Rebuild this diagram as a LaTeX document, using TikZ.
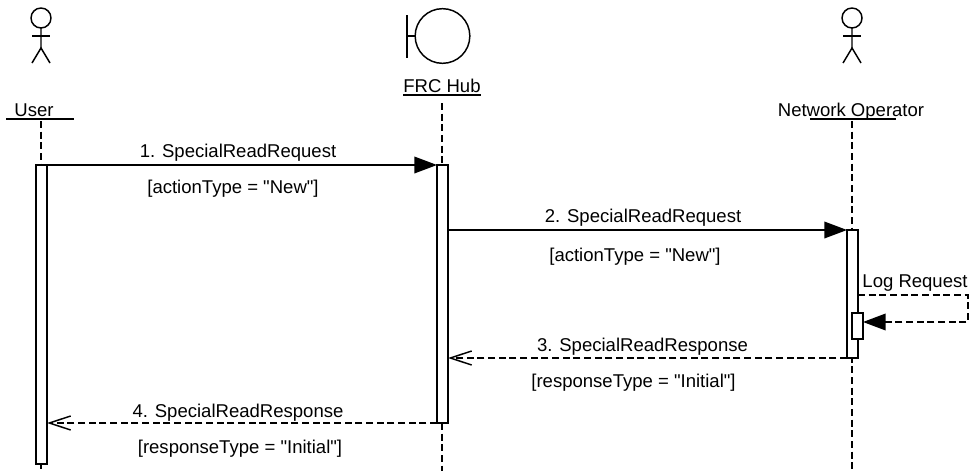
\documentclass[tikz,border=0pt]{standalone}
\usepackage{fontspec}
\newfontfamily\labelfont{Liberation Sans}
\usepackage{tikz}
\usetikzlibrary{arrows.meta,positioning,calc}

\tikzset{
  actor/.pic={
    \draw[figure] (0,0) circle[radius=10] (0,10) -- (0,30);
    \draw[figure] (-9,18) -- (9,18);
    \draw[figure] (-9,45) -- (0,30) -- (9,45);
  },
  figure/.style={line width=1.1pt},
  label/.style={inner sep=0pt,anchor=base,font=\labelfont\fontsize{13.9pt}{16pt}\selectfont},
  rule/.style={line width=1.1pt},
  lifeline/.style={line width=1.1pt,dash pattern=on 5.2pt off 2.8pt},
  bar/.style={draw,fill=white,line width=1.1pt,minimum width=8.25pt,inner sep=0pt,outer sep=0pt},
  call/.style={line width=1.1pt,-{Triangle[length=17pt,width=12.5pt]}},
  reply/.style={line width=1.1pt,dash pattern=on 5.2pt off 2.8pt,-{Straight Barb[length=16pt,width=10.5pt,line width=1.1pt]}},
  selfcall/.style={line width=1.1pt,dash pattern=on 5.2pt off 2.8pt,-{Triangle[length=17pt,width=12.5pt]}},
}

\begin{document}
\begin{tikzpicture}[x=0.75pt,y=-0.75pt]
  \useasboundingbox (0,0) rectangle (971,471);

  % actors
  \pic at (41,18) {actor};
  \pic at (852,18) {actor};

  % hub symbol
  \node[draw,circle,line width=1.1pt,minimum size=41pt,inner sep=0pt,outer sep=0pt] (hubcircle) at (442.5,36) {};
  \coordinate (hubstem) at (407,36);
  \draw[figure] (407,15) -- (407,58);
  \draw[figure] (hubstem) -- (hubcircle.west);

  % names
  \node[label] (user) at (34,116) {User};
  \node[label] (hub) at (442,92) {FRC Hub};
  \node[label] (operator) at (851,116) {Network Operator};
  \draw[rule] (6,119) -- (74,119);
  \draw[rule] (403,95) -- (481,95);
  \draw[rule] (810,119) -- (896,119);

  % lifelines
  \coordinate (usertop) at (41,121);
  \coordinate (hubtop) at (442,103);
  \coordinate (operatortop) at (852,121);
  \coordinate (userend) at (41,471);
  \coordinate (hubend) at (442,471);
  \coordinate (operatorend) at (852,471);
  \draw[lifeline] (usertop) -- (userend);
  \draw[lifeline] (hubtop) -- (hubend);
  \draw[lifeline] (operatortop) -- (operatorend);

  % activations
  \node[bar,minimum height=224.25pt] (userbar) at (41.5,314.5) {};
  \node[bar,minimum height=193.5pt] (hubbar) at (442.5,294) {};
  \node[bar,minimum height=96pt] (operatorbar) at (852.5,294) {};
  \node[bar,minimum height=19.5pt] (logbar) at (857.5,326) {};

  % messages
  \draw[call] (userbar.north east) -- (hubbar.north west);
  \draw[call] (hubbar.east |- operatorbar.north) -- (operatorbar.north west);
  \draw[reply] (operatorbar.south west) -- (hubbar.east |- operatorbar.south);
  \draw[reply] (hubbar.south west) -- (userbar.east |- hubbar.south);

  % self call
  \coordinate (logout) at (858,295);
  \coordinate (logback) at (968,322);
  \draw[selfcall] (logout) -| (logback) -- (logbar.east |- logback);

  % message labels
  \node[label] (firstcall) at (238,157) {1. SpecialReadRequest};
  \node[label] (firstguard) at (233,193) {[actionType = "New"]};
  \node[label] (secondcall) at (643,222) {2. SpecialReadRequest};
  \node[label] (secondguard) at (635,261) {[actionType = "New"]};
  \node[label] (logcall) at (915,287) {Log Request};
  \node[label] (firstreply) at (642.5,351) {3. SpecialReadResponse};
  \node[label] (firstresult) at (633.5,387) {[responseType = "Initial"]};
  \node[label] (secondreply) at (238,417) {4. SpecialReadResponse};
  \node[label] (secondresult) at (240,453) {[responseType = "Initial"]};
\end{tikzpicture}
\end{document}
